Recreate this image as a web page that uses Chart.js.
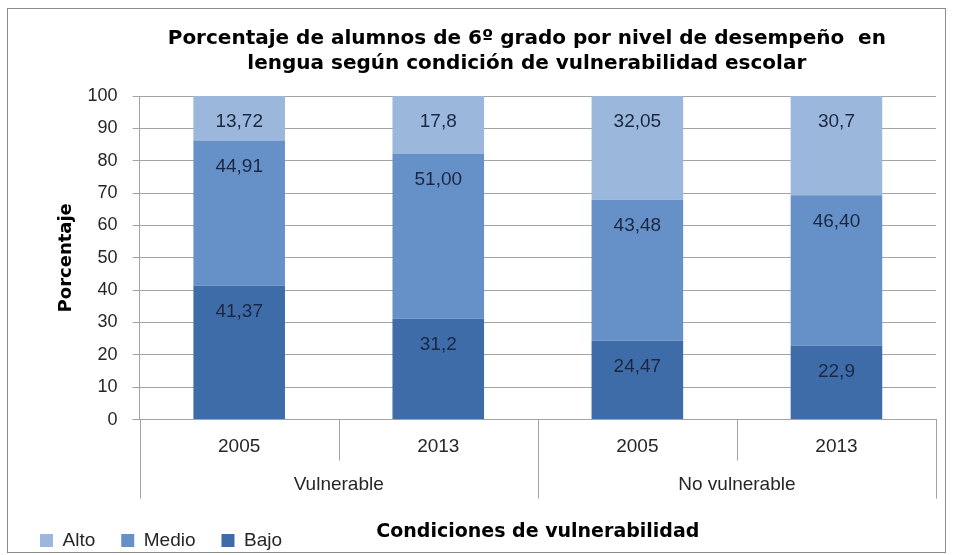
<!DOCTYPE html>
<html>
<head>
<meta charset="utf-8">
<script src="https://cdn.jsdelivr.net/npm/chart.js@4.4.1/dist/chart.umd.min.js"></script>
<style>
  html, body { margin: 0; padding: 0; background: #fff; }
</style>
</head>
<body>
<canvas id="chart" width="953" height="555"></canvas>
<script>
// data
const years = ["2005", "2013", "2005", "2013"];
const groups = ["Vulnerable", "No vulnerable"];
const alto = [13.72, 17.8, 32.05, 30.7];
const medio = [44.91, 51.00, 43.48, 46.40];
const bajo = [41.37, 31.2, 24.47, 22.9];
// how many decimals each label shows
const altoDec = [2, 1, 2, 1];
const medioDec = [2, 2, 2, 2];
const bajoDec = [2, 1, 2, 1];

const FONT = '"Liberation Sans", Arial, sans-serif';
const BOLD = '"DejaVu Sans", Verdana, sans-serif';
const GRID = "#a3a3a3";
const TXT = "#262626";
const colors = { alto: "#9bb7db", medio: "#6691c8", bajo: "#3e6ca9" };

/* white background + grey frame, title nudged left like the original */
const frame = {
  id: "frame",
  afterLayout(chart) {
    if (chart.titleBlock) {
      chart.titleBlock.left -= 11;
      chart.titleBlock.right -= 11;
    }
  },
  beforeDraw(chart) {
    const ctx = chart.ctx;
    ctx.save();
    ctx.fillStyle = "#fff";
    ctx.fillRect(0, 0, chart.width, chart.height);
    ctx.strokeStyle = "#8c8c8c";
    ctx.lineWidth = 1;
    ctx.strokeRect(7.5, 8.5, chart.width - 15, chart.height - 11);
    ctx.restore();
  }
};

/* divider lines of the two-level category axis */
const dividers = {
  id: "dividers",
  afterDraw(chart) {
    const xs = chart.scales.x, gs = chart.scales.x2;
    const ctx = chart.ctx;
    const shortEnd = xs.bottom, longEnd = gs.top + 38;
    const line = (px, y2) => {
      const x = Math.round(px) + 0.5;
      ctx.beginPath();
      ctx.moveTo(x, xs.top);
      ctx.lineTo(x, y2);
      ctx.stroke();
    };
    ctx.save();
    ctx.strokeStyle = GRID;
    ctx.lineWidth = 1;
    for (let i = 0; i < years.length - 1; i++) {
      line((xs.getPixelForTick(i) + xs.getPixelForTick(i + 1)) / 2, shortEnd);
    }
    line(gs.left, longEnd);
    line(gs.right, longEnd);
    for (let i = 0; i < groups.length - 1; i++) {
      line((gs.getPixelForTick(i) + gs.getPixelForTick(i + 1)) / 2, longEnd);
    }
    ctx.restore();
  }
};

/* value labels near the top of each segment */
const valueLabels = {
  id: "valueLabels",
  afterDatasetsDraw(chart) {
    const ctx = chart.ctx;
    ctx.save();
    ctx.font = "19px " + FONT;
    ctx.fillStyle = "#1b2742";
    ctx.textAlign = "center";
    ctx.textBaseline = "middle";
    chart.data.datasets.forEach((ds, i) => {
      chart.getDatasetMeta(i).data.forEach((bar, j) => {
        const txt = ds.data[j].toFixed(ds.decimals[j]).replace(".", ",");
        ctx.fillText(txt, bar.x, bar.y + 26);
      });
    });
    ctx.restore();
  }
};

new Chart(document.getElementById("chart"), {
  type: "bar",
  data: {
    labels: years,
    datasets: [
      { label: "Bajo", data: bajo, decimals: bajoDec, backgroundColor: colors.bajo },
      { label: "Medio", data: medio, decimals: medioDec, backgroundColor: colors.medio },
      { label: "Alto", data: alto, decimals: altoDec, backgroundColor: colors.alto }
    ]
  },
  options: {
    responsive: false,
    animation: false,
    datasets: { bar: { categoryPercentage: 1, barPercentage: 0.46 } },
    layout: { padding: { left: 14, right: 17, top: 8, bottom: -5 } },
    plugins: {
      title: {
        display: true,
        fullSize: false,
        text: ["Porcentaje de alumnos de 6º grado por nivel de desempeño  en",
               "lengua según condición de vulnerabilidad escolar"],
        color: "#000",
        font: { family: BOLD, size: 20, weight: "bold", lineHeight: 1.25 },
        padding: { top: 18, bottom: 20 }
      },
      legend: {
        position: "bottom",
        align: "start",
        reverse: true,
        labels: {
          boxWidth: 13,
          boxHeight: 13,
          padding: 26,
          color: TXT,
          font: { family: FONT, size: 19 }
        }
      },
      tooltip: { enabled: false }
    },
    scales: {
      x: {
        stacked: true,
        weight: 0,
        grid: { display: false },
        border: { color: GRID },
        ticks: { padding: 8, color: TXT, font: { family: FONT, size: 19 } },
        afterFit(scale) { scale.height = 41; }
      },
      x2: {
        type: "category",
        labels: groups,
        position: "bottom",
        offset: true,
        weight: 1,
        grid: { display: false },
        border: { display: false },
        ticks: { padding: 5, color: TXT, font: { family: FONT, size: 19 } },
        title: {
          display: true,
          text: "Condiciones de vulnerabilidad",
          color: "#000",
          font: { family: BOLD, size: 19, weight: "bold" },
          padding: { top: 24, bottom: -38 }
        },
        afterFit(scale) { scale.height = 44.4; }
      },
      y: {
        stacked: true,
        min: 0,
        max: 100,
        grid: { color: GRID, tickLength: 7 },
        border: { color: GRID },
        ticks: { stepSize: 10, padding: 15, color: TXT, font: { family: FONT, size: 18 } },
        title: {
          display: true,
          text: "Porcentaje",
          color: "#000",
          font: { family: BOLD, size: 18, weight: "bold" },
          padding: { top: 42, bottom: -5 }
        }
      }
    }
  },
  plugins: [frame, dividers, valueLabels]
});
</script>
</body>
</html>
